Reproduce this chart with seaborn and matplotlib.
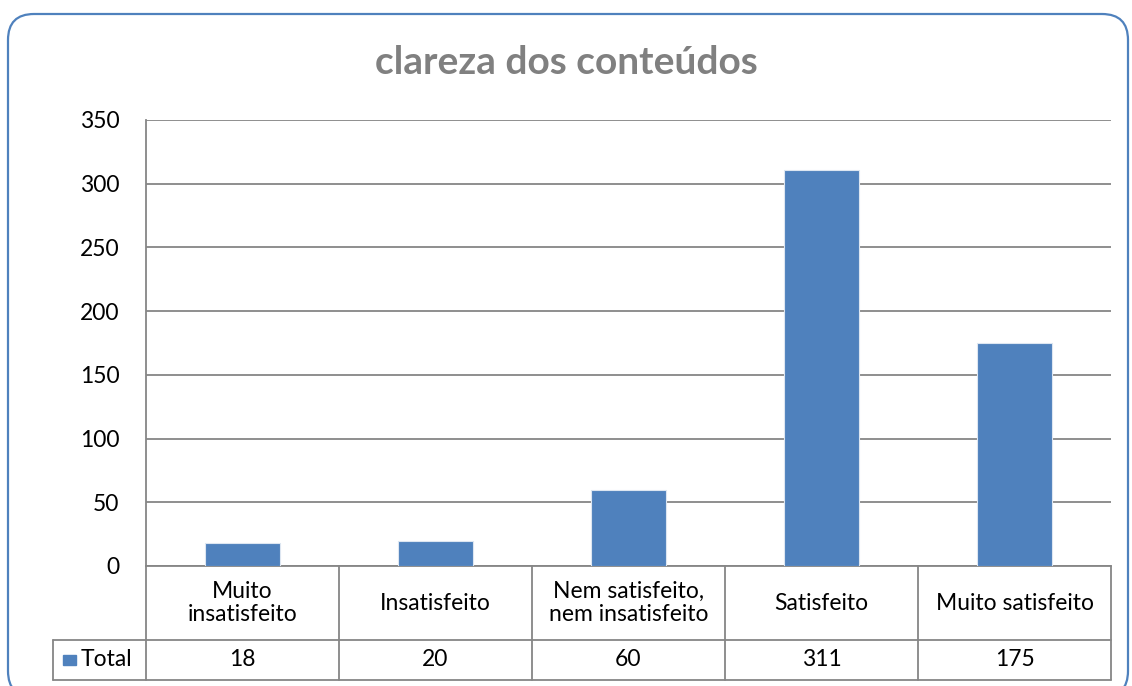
import matplotlib
matplotlib.use("Agg")
import matplotlib.pyplot as plt
from matplotlib.patches import FancyBboxPatch, Rectangle
from matplotlib.transforms import blended_transform_factory, IdentityTransform
import pandas as pd
import seaborn as sns

categories = ["Muito\ninsatisfeito", "Insatisfeito", "Nem satisfeito,\nnem insatisfeito",
              "Satisfeito", "Muito satisfeito"]
totals = [18, 20, 60, 311, 175]
series_name = "Total"
title = "clareza dos conteúdos"
y_ticks = [0, 50, 100, 150, 200, 250, 300, 350]

W, H = 1132, 686
bar_color = "#4F81BD"
grid_color = "#868686"

sns.set_theme(style="white")
plt.rcParams["font.family"] = ["Lato", "DejaVu Sans"]

df = pd.DataFrame({"cat": categories, "total": totals})

fig = plt.figure(figsize=(W / 100, H / 100), dpi=100)

# rounded chart border, in pixels (bottom edge runs off the image)
border = FancyBboxPatch((8, H - 697), 1120, 697 - 14,
                        boxstyle="round,pad=0,rounding_size=26",
                        transform=IdentityTransform(), fill=False,
                        edgecolor="#4F81BD", linewidth=1.6)
fig.patches.append(border)

ax_l, ax_r, ax_t, ax_b = 146, 1111, 120, 566
ax = fig.add_axes([ax_l / W, 1 - ax_b / H, (ax_r - ax_l) / W, (ax_b - ax_t) / H])

sns.barplot(data=df, x="cat", y="total", color=bar_color, saturation=1,
            width=0.39, edgecolor="#dde6f1", linewidth=0.8, ax=ax, zorder=3)

ax.set_ylim(0, 350)
ax.set_xlim(-0.5, len(categories) - 0.5)
ax.set_yticks(y_ticks)
ax.yaxis.grid(True, color=grid_color, linewidth=1.3, zorder=0)
ax.set_axisbelow(True)
ax.set_xticks([])
ax.set_xlabel("")
ax.set_ylabel("")
ax.tick_params(axis="y", labelsize=16.5, labelcolor="black", length=0, pad=19)
for side in ["top", "right"]:
    ax.spines[side].set_visible(False)
for side in ["left", "bottom"]:
    ax.spines[side].set_color(grid_color)
    ax.spines[side].set_linewidth(1.3)

# data table below the plot
trans = blended_transform_factory(ax.transData, ax.transAxes)
px = (ax_r - ax_l) / len(categories)
row1 = -(640 - ax_b) / (ax_b - ax_t)
row2 = -(680 - ax_b) / (ax_b - ax_t)
left_x = -0.5 - (ax_l - 53) / px
n = len(categories)
line_kw = dict(color=grid_color, linewidth=1.3, transform=trans, clip_on=False)
for i in range(n + 1):
    ax.plot([i - 0.5, i - 0.5], [0, row2], **line_kw)
ax.plot([left_x, left_x], [row1, row2], **line_kw)
ax.plot([left_x, n - 0.5], [row1, row1], **line_kw)
ax.plot([left_x, n - 0.5], [row2, row2], **line_kw)

fs = 16.5
for i, (c, v) in enumerate(zip(categories, totals)):
    ax.text(i, row1 / 2, c, transform=trans, ha="center", va="center",
            fontsize=fs, color="black", linespacing=1.15)
    ax.text(i, (row1 + row2) / 2, str(v), transform=trans, ha="center",
            va="center", fontsize=fs, color="black")

# legend key in the table
key_w = 13 / px
key_h = 10 / (ax_b - ax_t)
ymid = (row1 + row2) / 2
ax.add_patch(Rectangle((left_x + 10 / px, ymid - key_h / 2), key_w, key_h,
                       transform=trans, color=bar_color, clip_on=False))
ax.text(left_x + 28 / px, ymid, series_name, transform=trans, ha="left",
        va="center", fontsize=fs, color="black")

fig.text(566 / W, 1 - 63 / H, title, ha="center", va="center",
         fontsize=28, fontweight="bold", color="#808080")

fig.savefig("out.png", dpi=100)
